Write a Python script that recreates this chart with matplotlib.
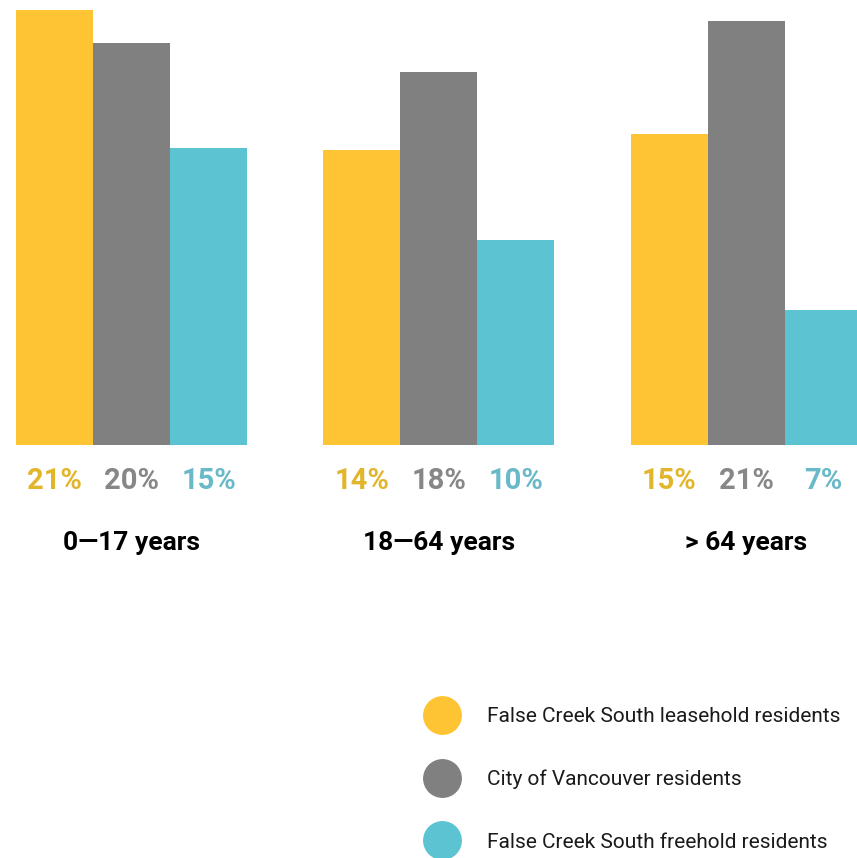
import matplotlib
matplotlib.use("Agg")
import matplotlib.pyplot as plt
from matplotlib.lines import Line2D
import numpy as np

plt.rcParams['font.family'] = ['Roboto', 'DejaVu Sans']

categories = ["0\u201417 years", "18\u201464 years", "> 64 years"]
series_names = ["False Creek South leasehold residents",
                "City of Vancouver residents",
                "False Creek South freehold residents"]
leasehold = [21.1, 14.3, 15.1]
vancouver = [19.5, 18.1, 20.6]
freehold = [14.4, 9.95, 6.55]
leasehold_labels = ["21%", "14%", "15%"]
vancouver_labels = ["20%", "18%", "21%"]
freehold_labels = ["15%", "10%", "7%"]

bar_colors = ["#FFC433", "#808080", "#5BC3D1"]
text_colors = ["#E2B62C", "#878787", "#6AB9C8"]

W, H = 857, 858
fig = plt.figure(figsize=(W / 100, H / 100), dpi=100)
base = 445
ax = fig.add_axes([0, (H - base) / H, 1, base / H])

px_per_unit = 307.25
xmin = -131.5 / px_per_unit
xmax = xmin + W / px_per_unit
bw = 77 / px_per_unit
ymax = base / 20.6
ax.set_xlim(xmin, xmax)
ax.set_ylim(0, ymax)
ax.axis('off')

x = np.arange(len(categories))
series = [leasehold, vancouver, freehold]
labels = [leasehold_labels, vancouver_labels, freehold_labels]
offsets = [-bw, 0, bw]
for vals, lbls, off, bc, tc in zip(series, labels, offsets, bar_colors, text_colors):
    ax.bar(x + off, vals, width=bw, color=bc, linewidth=0)
    for xi, lbl in zip(x, lbls):
        ax.annotate(lbl, (xi + off, 0), xytext=(0, -36), textcoords='offset pixels',
                    ha='center', va='center', fontsize=21, fontweight='bold',
                    color=tc, annotation_clip=False)

for xi, cat in zip(x, categories):
    ax.annotate(cat, (xi, 0), xytext=(0, -98), textcoords='offset pixels',
                ha='center', va='center', fontsize=19, fontweight='bold',
                color='black', annotation_clip=False)

handles = [Line2D([0], [0], marker='o', linestyle='none', markersize=28,
                  markerfacecolor=c, markeredgewidth=0) for c in bar_colors]
leg = fig.legend(handles, series_names, loc='upper left',
                 bbox_to_anchor=(421 / W, 1 - 707 / H), frameon=False,
                 fontsize=15, labelspacing=2.09, handletextpad=1.19,
                 borderaxespad=0, borderpad=0)
for t in leg.get_texts():
    t.set_color('#1a1a1a')

fig.savefig("out.png", dpi=100)
